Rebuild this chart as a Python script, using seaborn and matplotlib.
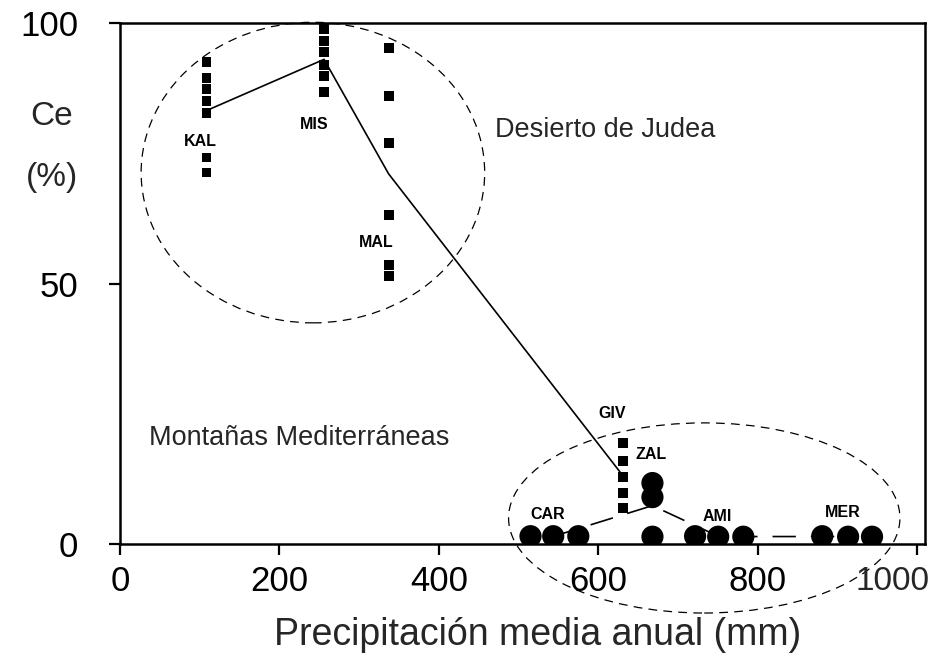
import numpy as np
import pandas as pd
import matplotlib
matplotlib.use("Agg")
import matplotlib.pyplot as plt
from matplotlib import font_manager
import seaborn as sns
from matplotlib.patches import Ellipse

# ---------------- data ----------------
# Judean desert sites (squares) + GIV
kal_x = [108.5] * 7
kal_y = [92.5, 89.4, 87.3, 85.0, 82.7, 74.2, 71.3]
mis_x = [256.0] * 6
mis_y = [98.8, 96.5, 94.4, 92.0, 89.8, 86.7]
mal_x = [337.0] * 6
mal_y = [95.2, 86.0, 76.9, 63.1, 53.6, 51.5]
giv_x = [631.5] * 5
giv_y = [19.4, 16.0, 12.9, 9.8, 6.9]
# Mediterranean mountain sites (circles)
car_x = [515.0, 543.5, 575.0]
car_y = [1.5, 1.5, 1.5]
zal_x = [668.0, 668.0, 668.0]
zal_y = [11.7, 9.0, 1.4]
ami_x = [721.5, 750.5, 782.0]
ami_y = [1.5, 1.4, 1.4]
mer_x = [881.0, 913.5, 943.5]
mer_y = [1.5, 1.4, 1.4]

site_names = ["KAL", "MIS", "MAL", "GIV", "CAR", "ZAL", "AMI", "MER"]
site_x = [kal_x, mis_x, mal_x, giv_x, car_x, zal_x, ami_x, mer_x]
site_y = [kal_y, mis_y, mal_y, giv_y, car_y, zal_y, ami_y, mer_y]
site_marker = ["s", "s", "s", "s", "o", "o", "o", "o"]
site_group = ["desert", "desert", "desert", "desert", "med", "med", "med", "med"]

x_ticks = [0, 200, 400, 600, 800, 1000]
x_tick_labels = ["0", "200", "400", "600", "800", "1000"]
y_ticks = [0, 50, 100]
x_label = "Precipitación media anual (mm)"
y_label_1 = "Ce"
y_label_2 = "(%)"
region_1 = "Desierto de Judea"
region_2 = "Montañas Mediterráneas"

rows = []
for name, xs, ys, mk, grp in zip(site_names, site_x, site_y, site_marker, site_group):
    for xv, yv in zip(xs, ys):
        rows.append({"site": name, "x": xv, "y": yv, "marker": mk, "group": grp})
df = pd.DataFrame(rows)
means = df.groupby("site", sort=False).agg(x=("x", "mean"), y=("y", "mean"),
                                             group=("group", "first")).reset_index()

# ---------------- styling / layout ----------------
sns.set_theme(style="white")
plt.rcParams["font.family"] = ["Liberation Sans", "DejaVu Sans"]
installed = {f.name for f in font_manager.fontManager.ttflist}
has_narrow = "Liberation Sans Narrow" in installed
narrow_family = ["Liberation Sans Narrow", "Liberation Sans"] if has_narrow \
    else ["Liberation Sans", "DejaVu Sans"]
narrow_size = 25 if has_narrow else 24

fig = plt.figure(figsize=(9.34, 6.59), dpi=100)
ax = fig.add_axes([0.1285, 0.1745, 0.8619, 0.7905])

# mean lines
sns.lineplot(data=means[means.group == "desert"], x="x", y="y", sort=False,
             estimator=None, color="black", lw=1.2, ax=ax, zorder=2)
sns.lineplot(data=means[means.group == "med"], x="x", y="y", sort=False,
             estimator=None, color="black", lw=1.2, ax=ax, zorder=2,
             dashes=False, linestyle=(0, (14, 9)))

# markers
sq = df[df.marker == "s"]
ci = df[df.marker == "o"]
sns.scatterplot(data=sq, x="x", y="y", marker="s", s=50, color="black",
                edgecolor="none", ax=ax, zorder=3, clip_on=False)
sns.scatterplot(data=ci, x="x", y="y", marker="o", s=255, color="black",
                edgecolor="none", ax=ax, zorder=3)

# dashed ellipses around groups
ax.add_patch(Ellipse((242, 71.3), 431, 57.7, fill=False, ec="black", lw=0.9,
                     ls=(0, (7, 5)), clip_on=False, zorder=1))
ax.add_patch(Ellipse((733, 5.0), 491, 36.5, fill=False, ec="black", lw=0.9,
                     ls=(0, (7, 5)), clip_on=False, zorder=1))

# site labels
label_pos = {"KAL": (101, 77.2), "MIS": (243, 80.6), "MAL": (322, 57.8),
             "GIV": (617.5, 25.1), "ZAL": (666, 17.1), "CAR": (537, 5.6),
             "AMI": (749, 5.2), "MER": (907, 6.1)}
for name in site_names:
    lx, ly = label_pos[name]
    ax.text(lx, ly, name, fontsize=11.5, fontweight="bold", ha="center",
            va="center", color="black")

ax.text(471, 78.1, region_1, fontsize=19.5, ha="left", va="baseline")
ax.text(36, 19.0, region_2, fontsize=19.5, ha="left", va="baseline")

ax.set_xlim(0, 1010)
ax.set_ylim(0, 100)
ax.set_xticks(x_ticks)
# last label is squeezed against the right edge in the reference: drawn separately
ax.set_xticklabels(x_tick_labels[:-1] + [""])
ax.set_yticks(y_ticks)
ax.set_xlabel("")
ax.set_ylabel("")
ax.tick_params(axis="both", which="major", direction="out", length=8,
               width=1.6, color="black", labelsize=25, labelcolor="black",
               bottom=True, left=True)
ax.tick_params(axis="x", pad=7)
ax.tick_params(axis="y", pad=22)
ax.annotate(x_tick_labels[-1], xy=(x_ticks[-1], 0),
            xycoords=("data", "axes fraction"), xytext=(8.6, -15.5),
            textcoords="offset points", ha="right", va="top",
            fontsize=narrow_size, family=narrow_family, annotation_clip=False)
for sp in ax.spines.values():
    sp.set_visible(True)
    sp.set_color("black")
    sp.set_linewidth(1.8)

fig.text(0.0557, 0.8225, y_label_1, fontsize=24, ha="center", va="center")
fig.text(0.0557, 0.730, y_label_2, fontsize=24, ha="center", va="center")
fig.text(0.576, 0.021, x_label, fontsize=27, ha="center", va="baseline")

fig.savefig("out.png", dpi=100, facecolor="white")
